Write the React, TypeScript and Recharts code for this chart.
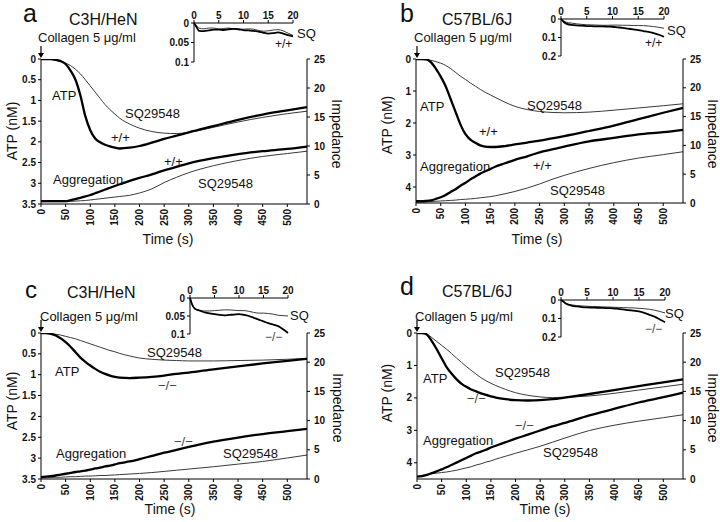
import React from 'react';
import { LineChart, Line, XAxis, YAxis } from 'recharts';

const FONT = '"Liberation Sans", Arial, Helvetica, sans-serif';

// ---------- shared axes ----------
const timeS = [0, 10, 20, 30, 40, 50, 60, 70, 80, 90, 100, 110, 120, 130, 140, 150, 160, 180, 200, 225, 250, 275, 300, 350, 400, 450, 500, 540];
const insetTimeS = [0, 0.5, 1, 2, 3, 4, 5, 6, 7, 8, 9, 10, 11, 12, 13, 14, 15, 16, 17, 18, 19, 20];
const timeTicks = [0, 50, 100, 150, 200, 250, 300, 350, 400, 450, 500];
const timeMax = 540;
const insetTimeTicks = [0, 5, 10, 15, 20];
const impTicks = [0, 5, 10, 15, 20, 25];
const atpTicks35 = [0, 0.5, 1, 1.5, 2, 2.5, 3, 3.5];
const atpTicks45 = [0, 1, 2, 3, 4];
const insetTicks01 = [0, 0.05, 0.1];
const insetTicks02 = [0, 0.1, 0.2];

// ---------- panel a (C3H/HeN, +/+) ----------
const aAtpWT = [0, 0, 0, 0.02, 0.05, 0.12, 0.28, 0.5, 0.88, 1.38, 1.72, 1.92, 2.01, 2.07, 2.11, 2.14, 2.16, 2.14, 2.1, 2.02, 1.93, 1.85, 1.77, 1.62, 1.47, 1.34, 1.24, 1.16];
const aAtpSQ = [0, 0, 0.01, 0.03, 0.06, 0.1, 0.16, 0.25, 0.36, 0.5, 0.65, 0.8, 0.95, 1.1, 1.22, 1.33, 1.43, 1.57, 1.67, 1.75, 1.79, 1.8, 1.77, 1.65, 1.52, 1.41, 1.32, 1.26];
const aAggWT = [0.5, 0.5, 0.5, 0.5, 0.5, 0.5, 0.65, 0.85, 1.05, 1.3, 1.55, 1.85, 2.15, 2.5, 2.8, 3.1, 3.4, 4.0, 4.5, 5.1, 5.8, 6.4, 7.0, 7.9, 8.6, 9.1, 9.5, 9.9];
const aAggSQ = [0.4, 0.4, 0.4, 0.4, 0.4, 0.4, 0.45, 0.5, 0.55, 0.6, 0.7, 0.8, 0.9, 1.0, 1.1, 1.2, 1.3, 1.5, 1.9, 2.6, 3.7, 4.6, 5.4, 6.6, 7.5, 8.2, 8.7, 9.1];
const aInWT = [0, 0.01, 0.02, 0.021, 0.019, 0.017, 0.017, 0.018, 0.016, 0.015, 0.016, 0.018, 0.019, 0.02, 0.022, 0.025, 0.027, 0.026, 0.024, 0.027, 0.031, 0.034];
const aInSQ = [0, 0.006, 0.013, 0.015, 0.013, 0.013, 0.015, 0.014, 0.013, 0.015, 0.016, 0.016, 0.015, 0.016, 0.019, 0.021, 0.02, 0.018, 0.017, 0.02, 0.026, 0.032];

// ---------- panel b (C57BL/6J, +/+) ----------
const bAtpWT = [0, 0, 0.01, 0.1, 0.3, 0.55, 0.85, 1.25, 1.65, 2.05, 2.35, 2.52, 2.62, 2.7, 2.74, 2.75, 2.75, 2.72, 2.67, 2.61, 2.55, 2.48, 2.41, 2.25, 2.08, 1.88, 1.68, 1.53];
const bAtpSQ = [0, 0, 0.01, 0.04, 0.08, 0.13, 0.2, 0.3, 0.42, 0.54, 0.64, 0.75, 0.85, 0.95, 1.04, 1.12, 1.2, 1.35, 1.48, 1.58, 1.64, 1.67, 1.68, 1.66, 1.6, 1.53, 1.46, 1.4];
const bAggWT = [0.3, 0.3, 0.35, 0.45, 0.7, 1.0, 1.4, 1.9, 2.4, 3.0, 3.5, 4.1, 4.6, 5.1, 5.5, 5.9, 6.3, 6.9, 7.5, 8.1, 8.8, 9.3, 9.8, 10.7, 11.3, 11.9, 12.3, 12.7];
const bAggSQ = [0.2, 0.2, 0.2, 0.25, 0.3, 0.35, 0.4, 0.45, 0.5, 0.6, 0.65, 0.72, 0.8, 0.9, 1.0, 1.1, 1.25, 1.6, 2.0, 2.6, 3.3, 4.1, 4.8, 6.0, 7.0, 7.8, 8.4, 8.9];
const bInWT = [0, 0.015, 0.025, 0.032, 0.035, 0.036, 0.038, 0.039, 0.04, 0.04, 0.041, 0.042, 0.045, 0.048, 0.052, 0.056, 0.06, 0.065, 0.07, 0.076, 0.085, 0.096];
const bInSQ = [0, 0.01, 0.017, 0.022, 0.026, 0.029, 0.031, 0.032, 0.033, 0.034, 0.034, 0.033, 0.033, 0.034, 0.034, 0.035, 0.035, 0.036, 0.038, 0.041, 0.045, 0.05];

// ---------- panel c (C3H/HeN, -/-) ----------
const cAtpWT = [0, 0, 0.02, 0.06, 0.13, 0.22, 0.33, 0.46, 0.59, 0.69, 0.78, 0.86, 0.93, 0.98, 1.02, 1.05, 1.07, 1.08, 1.07, 1.05, 1.02, 0.98, 0.95, 0.87, 0.8, 0.73, 0.67, 0.62];
const cAtpSQ = [0, 0, 0.01, 0.03, 0.05, 0.08, 0.11, 0.14, 0.18, 0.22, 0.26, 0.3, 0.34, 0.38, 0.42, 0.45, 0.49, 0.55, 0.6, 0.63, 0.65, 0.66, 0.67, 0.67, 0.66, 0.65, 0.63, 0.61];
const cAggWT = [0.3, 0.4, 0.5, 0.6, 0.75, 0.9, 1.05, 1.2, 1.3, 1.45, 1.6, 1.8, 1.95, 2.15, 2.3, 2.5, 2.7, 3.0, 3.4, 3.95, 4.5, 5.0, 5.5, 6.4, 7.1, 7.7, 8.2, 8.6];
const cAggSQ = [0.2, 0.2, 0.25, 0.3, 0.3, 0.35, 0.4, 0.4, 0.45, 0.5, 0.5, 0.55, 0.6, 0.6, 0.65, 0.7, 0.75, 0.85, 0.95, 1.1, 1.3, 1.5, 1.7, 2.1, 2.55, 3.0, 3.6, 4.1];
const cInWT = [0, 0.02, 0.03, 0.035, 0.04, 0.043, 0.045, 0.047, 0.048, 0.047, 0.046, 0.045, 0.047, 0.05, 0.055, 0.06, 0.065, 0.07, 0.074, 0.078, 0.087, 0.097];
const cInSQ = [0, 0.02, 0.03, 0.035, 0.036, 0.036, 0.035, 0.034, 0.033, 0.033, 0.034, 0.035, 0.035, 0.037, 0.04, 0.042, 0.042, 0.043, 0.045, 0.048, 0.049, 0.05];

// ---------- panel d (C57BL/6J, -/-) ----------
const dAtpWT = [0, 0, 0.05, 0.25, 0.5, 0.78, 1.05, 1.25, 1.42, 1.56, 1.66, 1.74, 1.8, 1.86, 1.91, 1.95, 1.99, 2.04, 2.07, 2.08, 2.07, 2.04, 1.99, 1.88, 1.76, 1.64, 1.52, 1.43];
const dAtpSQ = [0, 0.01, 0.04, 0.14, 0.26, 0.38, 0.5, 0.63, 0.77, 0.9, 1.03, 1.15, 1.27, 1.38, 1.47, 1.55, 1.62, 1.74, 1.84, 1.92, 1.97, 1.99, 1.98, 1.94, 1.86, 1.76, 1.66, 1.58];
const dAggWT = [0.4, 0.5, 0.7, 1.0, 1.3, 1.65, 2.0, 2.4, 2.8, 3.2, 3.6, 4.0, 4.4, 4.7, 5.0, 5.4, 5.7, 6.3, 6.9, 7.6, 8.3, 9.0, 9.6, 10.9, 12.0, 13.1, 14.0, 14.8];
const dAggSQ = [0.4, 0.6, 0.8, 0.9, 1.0, 1.1, 1.2, 1.35, 1.5, 1.7, 1.9, 2.1, 2.4, 2.6, 2.9, 3.1, 3.4, 3.9, 4.4, 5.0, 5.6, 6.3, 7.0, 8.3, 9.2, 9.9, 10.5, 11.0];
const dInWT = [0, 0.01, 0.02, 0.03, 0.035, 0.038, 0.04, 0.041, 0.042, 0.043, 0.044, 0.045, 0.048, 0.051, 0.055, 0.058, 0.062, 0.07, 0.08, 0.09, 0.105, 0.12];
const dInSQ = [0, 0.01, 0.02, 0.026, 0.03, 0.032, 0.034, 0.035, 0.036, 0.037, 0.038, 0.039, 0.04, 0.041, 0.042, 0.043, 0.045, 0.047, 0.05, 0.055, 0.062, 0.07];

const buildMain = (wt: number[], sq: number[], aggWt: number[], aggSq: number[]) =>
  timeS.map((t, i) => ({ t, atpWT: wt[i], atpSQ: sq[i], aggWT: aggWt[i], aggSQ: aggSq[i] }));
const buildInset = (wt: number[], sq: number[]) =>
  insetTimeS.map((t, i) => ({ t, wt: wt[i], sq: sq[i] }));

const tickStyle = { fontSize: 10, fontWeight: 'bold' as const, fill: '#111', fontFamily: FONT };

// Rotated (bottom-to-top) x tick label, positioned by Recharts' own axis scale.
function RotTick(props: any) {
  const { x, y, payload } = props;
  const px = Number(x) || 0;
  const py = Number(y) || 0;
  return (
    <g transform={`translate(${px},${py})`}>
      <text x={0} y={0} dy={3.5} textAnchor="end" transform="rotate(-90)"
        fontSize={10} fontWeight="bold" fill="#111" fontFamily={FONT}>
        {payload && payload.value}
      </text>
    </g>
  );
}

type Box = { left: number; top: number; right: number; bottom: number };

const THICK = 2.3;
const THIN = 1;
const THIN_COLOR = '#3a3a3a';

function MainChart({ box, data, atpMax, atpTicks }: { box: Box; data: any[]; atpMax: number; atpTicks: number[] }) {
  const YL = 40, YR = 34, XH = 34, MT = 6;
  const w = box.right - box.left + YL + YR;
  const h = box.bottom - box.top + MT + XH;
  return (
    <div style={{ position: 'absolute', left: box.left - YL, top: box.top - MT }}>
      <LineChart width={w} height={h} data={data} margin={{ top: MT, right: 0, bottom: 0, left: 0 }}>
        <XAxis dataKey="t" type="number" domain={[0, timeMax]} ticks={timeTicks} interval={0} height={XH}
          tickSize={3} tickMargin={2} stroke="#000" tick={(p: any) => <RotTick {...p} />} />
        <YAxis yAxisId="atp" reversed domain={[0, atpMax]} ticks={atpTicks} interval={0} width={YL}
          tickSize={3} tickMargin={2} stroke="#000" tick={tickStyle} allowDataOverflow />
        <YAxis yAxisId="imp" orientation="right" domain={[0, 25]} ticks={impTicks} interval={0} width={YR}
          tickSize={3} tickMargin={4} stroke="#000" tick={{ ...tickStyle, textAnchor: 'start' }} allowDataOverflow />
        <Line yAxisId="atp" dataKey="atpSQ" type="monotone" stroke={THIN_COLOR} strokeWidth={THIN} dot={false} isAnimationActive={false} />
        <Line yAxisId="atp" dataKey="atpWT" type="monotone" stroke="#000" strokeWidth={THICK} dot={false} isAnimationActive={false} />
        <Line yAxisId="imp" dataKey="aggSQ" type="monotone" stroke={THIN_COLOR} strokeWidth={THIN} dot={false} isAnimationActive={false} />
        <Line yAxisId="imp" dataKey="aggWT" type="monotone" stroke="#000" strokeWidth={THICK} dot={false} isAnimationActive={false} />
      </LineChart>
    </div>
  );
}

function InsetChart({ box, data, yMax, yTicks }: { box: Box; data: any[]; yMax: number; yTicks: number[] }) {
  const YL = 32, XH = 16, MR = 9, MB = 7;
  const w = box.right - box.left + YL + MR;
  const h = box.bottom - box.top + XH + MB;
  return (
    <div style={{ position: 'absolute', left: box.left - YL, top: box.top - XH }}>
      <LineChart width={w} height={h} data={data} margin={{ top: 0, right: MR, bottom: MB, left: 0 }}>
        <XAxis orientation="top" dataKey="t" type="number" domain={[0, 20]} ticks={insetTimeTicks} interval={0}
          height={XH} tickSize={3} tickMargin={1} stroke="#000" tick={tickStyle} />
        <YAxis reversed domain={[0, yMax]} ticks={yTicks} interval={0} width={YL}
          tickSize={3} tickMargin={2} stroke="#000" tick={tickStyle} />
        <Line dataKey="sq" type="monotone" stroke={THIN_COLOR} strokeWidth={THIN} dot={false} isAnimationActive={false} />
        <Line dataKey="wt" type="monotone" stroke="#000" strokeWidth={1.8} dot={false} isAnimationActive={false} />
      </LineChart>
    </div>
  );
}

type Txt = { s: string; x: number; y: number; size?: number; rot?: number; anchor?: string; color?: string };

const panels = [
  {
    main: { left: 41, top: 59, right: 307, bottom: 204 }, inset: { left: 194, top: 23, right: 293, bottom: 62 },
    data: buildMain(aAtpWT, aAtpSQ, aAggWT, aAggSQ), insetData: buildInset(aInWT, aInSQ),
    atpMax: 3.5, atpTicks: atpTicks35, inMax: 0.1, inTicks: insetTicks01, arrowX: 41,
    texts: [
      { s: 'a', x: 23, y: 22, size: 25 }, { s: 'C3H/HeN', x: 69, y: 25, size: 16 },
      { s: 'Collagen 5 \u03bcg/ml', x: 38, y: 42, size: 13 },
      { s: 'ATP', x: 52, y: 100 }, { s: 'SQ29548', x: 125, y: 118 }, { s: '+/+', x: 111, y: 142 },
      { s: '+/+', x: 164, y: 166 }, { s: 'Aggregation', x: 53, y: 184 }, { s: 'SQ29548', x: 198, y: 188 },
      { s: 'ATP (nM)', x: 13, y: 131, rot: -90, anchor: 'middle', size: 14 },
      { s: 'Impedance', x: 336, y: 134, rot: 90, anchor: 'middle', size: 14 },
      { s: 'Time (s)', x: 168, y: 244, anchor: 'middle', size: 14 },
      { s: 'SQ', x: 297, y: 38 }, { s: '+/+', x: 275, y: 48, size: 12 },
    ] as Txt[],
  },
  {
    main: { left: 416, top: 59, right: 683, bottom: 203 }, inset: { left: 561, top: 19, right: 664, bottom: 56 },
    data: buildMain(bAtpWT, bAtpSQ, bAggWT, bAggSQ), insetData: buildInset(bInWT, bInSQ),
    atpMax: 4.5, atpTicks: atpTicks45, inMax: 0.2, inTicks: insetTicks02, arrowX: 417,
    texts: [
      { s: 'b', x: 400, y: 22, size: 25 }, { s: 'C57BL/6J', x: 442, y: 25, size: 16 },
      { s: 'Collagen 5 \u03bcg/ml', x: 414, y: 42, size: 13 },
      { s: 'ATP', x: 420, y: 111 }, { s: 'SQ29548', x: 527, y: 110 }, { s: '+/+', x: 479, y: 136 },
      { s: 'Aggregation', x: 420, y: 171 }, { s: '+/+', x: 533, y: 170 }, { s: 'SQ29548', x: 550, y: 195 },
      { s: 'ATP (nM)', x: 388, y: 125, rot: -90, anchor: 'middle', size: 14 },
      { s: 'Impedance', x: 712, y: 134, rot: 90, anchor: 'middle', size: 14 },
      { s: 'Time (s)', x: 537, y: 244, anchor: 'middle', size: 14 },
      { s: 'SQ', x: 667, y: 35 }, { s: '+/+', x: 645, y: 47, size: 12 },
    ] as Txt[],
  },
  {
    main: { left: 41, top: 333, right: 307, bottom: 479 }, inset: { left: 190, top: 298, right: 288, bottom: 334 },
    data: buildMain(cAtpWT, cAtpSQ, cAggWT, cAggSQ), insetData: buildInset(cInWT, cInSQ),
    atpMax: 3.5, atpTicks: atpTicks35, inMax: 0.1, inTicks: insetTicks01, arrowX: 41,
    texts: [
      { s: 'c', x: 25, y: 298, size: 24 }, { s: 'C3H/HeN', x: 67, y: 298, size: 16 },
      { s: 'Collagen 5 \u03bcg/ml', x: 40, y: 321, size: 13 },
      { s: 'SQ29548', x: 147, y: 357 }, { s: 'ATP', x: 55, y: 376 }, { s: '\u2212/\u2212', x: 158, y: 390, color: '#444' },
      { s: '\u2212/\u2212', x: 174, y: 446, color: '#444' }, { s: 'Aggregation', x: 56, y: 458 }, { s: 'SQ29548', x: 223, y: 458 },
      { s: 'ATP (nM)', x: 13, y: 401, rot: -90, anchor: 'middle', size: 14 },
      { s: 'Impedance', x: 337, y: 408, rot: 90, anchor: 'middle', size: 14 },
      { s: 'Time (s)', x: 170, y: 514, anchor: 'middle', size: 14 },
      { s: 'SQ', x: 290, y: 320 }, { s: '\u2212/\u2212', x: 265, y: 341, size: 12, color: '#444' },
    ] as Txt[],
  },
  {
    main: { left: 417, top: 333, right: 683, bottom: 479 }, inset: { left: 561, top: 300, right: 665, bottom: 337 },
    data: buildMain(dAtpWT, dAtpSQ, dAggWT, dAggSQ), insetData: buildInset(dInWT, dInSQ),
    atpMax: 4.5, atpTicks: atpTicks45, inMax: 0.2, inTicks: insetTicks02, arrowX: 417,
    texts: [
      { s: 'd', x: 400, y: 295, size: 25 }, { s: 'C57BL/6J', x: 442, y: 297, size: 16 },
      { s: 'Collagen 5 \u03bcg/ml', x: 415, y: 321, size: 13 },
      { s: 'ATP', x: 423, y: 383 }, { s: 'SQ29548', x: 495, y: 377 }, { s: '\u2212/\u2212', x: 467, y: 403, color: '#444' },
      { s: '\u2212/\u2212', x: 515, y: 430, color: '#444' }, { s: 'Aggregation', x: 423, y: 445 }, { s: 'SQ29548', x: 543, y: 457 },
      { s: 'ATP (nM)', x: 388, y: 393, rot: -90, anchor: 'middle', size: 14 },
      { s: 'Impedance', x: 712, y: 408, rot: 90, anchor: 'middle', size: 14 },
      { s: 'Time (s)', x: 545, y: 514, anchor: 'middle', size: 14 },
      { s: 'SQ', x: 665, y: 318 }, { s: '\u2212/\u2212', x: 645, y: 333, size: 12, color: '#444' },
    ] as Txt[],
  },
];

export default function App() {
  return (
    <div style={{ position: 'fixed', left: 0, top: 0, width: 720, height: 522, background: '#fff', overflow: 'hidden', fontFamily: FONT }}>
      {panels.map((p, i) => (
        <React.Fragment key={i}>
          <MainChart box={p.main} data={p.data} atpMax={p.atpMax} atpTicks={p.atpTicks} />
          <InsetChart box={p.inset} data={p.insetData} yMax={p.inMax} yTicks={p.inTicks} />
        </React.Fragment>
      ))}
      <svg width={720} height={522} style={{ position: 'absolute', left: 0, top: 0, pointerEvents: 'none' }}>
        {panels.map((p, i) => (
          <g key={i}>
            <line x1={p.arrowX} y1={p.main.top - 13} x2={p.arrowX} y2={p.main.top - 3} stroke="#000" strokeWidth={1.2} />
            <path d={`M ${p.arrowX - 3} ${p.main.top - 6} L ${p.arrowX} ${p.main.top - 1} L ${p.arrowX + 3} ${p.main.top - 6} Z`} fill="#000" />
            {p.texts.map((t, j) => (
              <text key={j} x={t.x} y={t.y} fontSize={t.size ?? 13} fontFamily={FONT} fill={t.color ?? '#111'}
                textAnchor={(t.anchor as any) ?? 'start'}
                transform={t.rot ? `rotate(${t.rot} ${t.x} ${t.y})` : undefined}
                dominantBaseline={t.rot ? 'middle' : undefined}>
                {t.s}
              </text>
            ))}
          </g>
        ))}
      </svg>
    </div>
  );
}
